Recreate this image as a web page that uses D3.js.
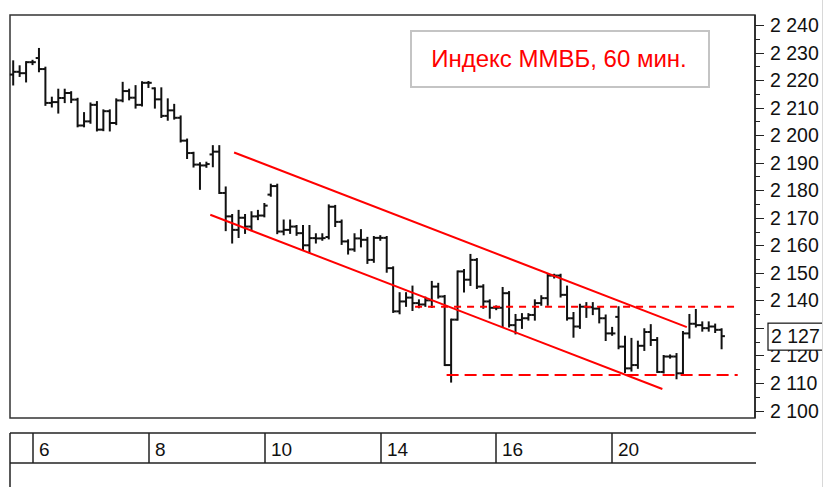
<!DOCTYPE html>
<html><head><meta charset="utf-8">
<script src="https://cdn.jsdelivr.net/npm/d3@7"></script>
<style>html,body{margin:0;padding:0;background:#fff;overflow:hidden}svg{display:block}</style>
</head><body>
<script>
// ---- data (hourly OHLC, Индекс ММВБ) ----
const open  = [2222,2223,2222.5,2226.5,2228,2224,2211.7,2212,2213.5,2215.3,2212.9,2203.5,2205,2211,2202,2208.7,2204.4,2212.6,2216,2213.6,2211,2219,
 2217,2213,2207,2209,2206.3,2198,2193.5,2189.3,2189,2193,2194,2179,2170.5,2165.6,2170,2166.8,2170.5,2170.8,
 2178.4,2181.5,2165,2165.6,2166.8,2164.4,2160,2162.6,2162.5,2163,2174,2168.5,2161.4,2158.5,2162.5,2162,2154.7,2162.7,
 2162.7,2151.7,2136,2139.6,2141,2139,2138.5,2140,2145,2141.4,2116.5,2133,2150.5,2147.5,2154.7,2145,2139.6,2137.3,
 2137.3,2142.6,2131,2132.9,2133.5,2134.7,2139,2140.8,2149,2149,2142,2133.5,2130.5,2137.7,2137.5,2137,2133.5,2128,
 2134,2123.2,2115.3,2116.5,2123.5,2128.5,2125.6,2114,2119.6,2119.6,2113.5,2128,2131.5,2131,2129.9,2130.5,2129.3];
const high  = [2226.8,2225,2226.5,2227,2231.3,2224.5,2213.6,2216.5,2216.5,2215.6,2213.2,2208,2211.5,2212,2209,2209,2213,2219,2216.5,2217.8,2219.2,2219.3,
 2217,2217,2213,2211,2206.8,2198.4,2193.6,2189.8,2190,2196,2196,2181,2171,2172.5,2171,2172,2172.5,2175,
 2182,2182,2169,2169,2167,2167,2167,2164,2164,2174.5,2174.3,2169,2161.8,2164,2165.5,2162.7,2163,2163.3,
 2163,2152,2142.6,2142.6,2145,2140,2141,2146.7,2146,2141.6,2133,2150.5,2151,2156.5,2155,2145.5,2140,2137.8,
 2144.5,2143,2134.7,2135,2135,2140,2141.5,2149.3,2149.3,2149.3,2145,2135.4,2138.4,2139,2139,2137.5,2134.5,2130,
 2137.5,2126.8,2126,2125,2129.5,2131,2126.3,2119.8,2120,2120.5,2128.5,2134.7,2136.5,2132,2132,2131.2,2129.5];
const low   = [2218.4,2221.5,2219.5,2225.8,2223.2,2211,2210.4,2208.2,2212,2212,2203.2,2203.2,2204.5,2201.7,2201.8,2201.7,2204,2212.3,2213,2210,2210.8,2217.5,
 2210,2206.6,2205.6,2206,2197.7,2191.7,2188.6,2180.5,2188.5,2188.7,2179,2165.5,2161,2163,2164.5,2165.5,2169.5,2170.5,
 2178,2164.4,2164,2164.5,2163.8,2158.5,2157.5,2161,2162,2162.5,2167,2160.5,2157,2158,2159.6,2153.6,2154,2162,
 2150.4,2135.8,2135.3,2138,2136.5,2137.5,2138,2137.6,2141,2116.5,2110.5,2133,2143.2,2145.6,2144.5,2137.3,2133.7,2136.8,
 2130.5,2130.5,2128,2130,2133,2133,2138.4,2138.4,2148.3,2141.4,2133,2126.8,2130,2134,2135,2132,2125.6,2127.5,
 2122.6,2114,2114.5,2115.5,2122,2123.8,2114,2113.8,2119.2,2111.7,2112.9,2126.5,2130.5,2129,2129,2128.5,2122.6];
const close = [2223,2222.5,2226.5,2226.5,2224,2211.7,2212,2213.5,2215.3,2212.9,2203.5,2205,2211,2202,2208.7,2204.4,2212.6,2216,2213.6,2211,2219,2219,
 2213,2207,2209,2206.3,2198,2193.5,2189.3,2189,2189.5,2194,2179,2170.5,2165.6,2170,2166.8,2170.5,2170.8,2174.4,
 2181.5,2165,2165.6,2166.8,2164.4,2160,2162.6,2162.5,2162.6,2174,2168.5,2161.4,2158.5,2162.5,2162,2154.7,2162.7,2162.7,
 2151.7,2136,2139.6,2141,2139,2138.5,2140,2145,2141.4,2116.5,2133,2150.5,2147.5,2154.7,2145,2139.6,2137.3,2137.3,
 2142.6,2131,2132.9,2133.5,2134.7,2139,2140.8,2149,2149,2142,2133.5,2130.5,2137.7,2137.5,2137,2133.5,2128,2128,
 2123.2,2115.3,2116.5,2123.5,2128.5,2125.6,2114,2119.6,2119.6,2113.5,2128,2131.5,2131,2129.9,2130.5,2129.3,2127];

const dayLabels     = ['6','8','10','14','16','20'];
const dayStartIndex = [4, 22, 40, 58, 76, 94];
const yTickValues   = [2100,2110,2120,2130,2140,2150,2160,2170,2180,2190,2200,2210,2220,2230,2240];
const yHideLabel    = [2130];
const lastPrice     = 2127;
const channelUpper  = [[34.3, 2193.7], [104.6, 2130.3]];
const channelLower  = [[30.6, 2171.1], [100.8, 2107.8]];
const levelValues   = [2137.7, 2112.9];
const levelFrom     = [62.4, 67.3];
const levelTo       = [112.5, 112.5];
const title = 'Индекс ММВБ, 60 мин.';

// ---- drawing ----
const W = 825, H = 487;
const svg = d3.select('body').append('svg').attr('width', W).attr('height', H);
const plot = {l: 10, r: 755, t: 15, b: 418};
const x = d3.scaleLinear().domain([0, close.length - 1]).range([13.2, 721.6]);
const y = d3.scaleLinear().domain([2100, 2240]).range([410.5, 25]);
const loc = d3.formatLocale({decimal: ',', thousands: '\u2009', grouping: [3], currency: ['', '']});
const fmt = v => loc.format(',')(v).replace('\u2009', ' ');
const font = '"Liberation Sans", Arial, sans-serif';
const axisFont = 19.5;

svg.append('defs').append('clipPath').attr('id', 'rclip')
  .append('rect').attr('x', 0).attr('y', 0).attr('width', 822).attr('height', H);

// frame
svg.append('rect').attr('x', plot.l).attr('y', plot.t)
  .attr('width', plot.r - plot.l).attr('height', plot.b - plot.t)
  .attr('fill', '#fff').attr('stroke', '#333').attr('stroke-width', 1.5);

// title box
svg.append('rect').attr('x', 411).attr('y', 31).attr('width', 298).attr('height', 56)
  .attr('fill', '#fff').attr('stroke', '#c4c4c4').attr('stroke-width', 2);
svg.append('text').attr('x', 559).attr('y', 67).attr('text-anchor', 'middle')
  .attr('font-family', font).attr('font-size', 24).attr('fill', '#ff0000').text(title);

// OHLC bars
const g = svg.append('g').attr('stroke', '#111').attr('stroke-width', 2).attr('fill', 'none');
const half = 3.3;
close.forEach((c, i) => {
  const xi = x(i);
  g.append('line').attr('x1', xi).attr('x2', xi).attr('y1', y(high[i]) - 1).attr('y2', y(low[i]) + 1);
  g.append('line').attr('x1', xi - half).attr('x2', xi).attr('y1', y(open[i])).attr('y2', y(open[i]));
  g.append('line').attr('x1', xi).attr('x2', xi + half).attr('y1', y(c)).attr('y2', y(c));
});

// channel lines
const red = '#ff0000';
[channelUpper, channelLower].forEach(seg => {
  svg.append('line').attr('x1', x(seg[0][0])).attr('y1', y(seg[0][1]))
    .attr('x2', x(seg[1][0])).attr('y2', y(seg[1][1]))
    .attr('stroke', red).attr('stroke-width', 2);
});
levelValues.forEach((v, k) => {
  svg.append('line').attr('x1', x(levelFrom[k])).attr('x2', x(levelTo[k]))
    .attr('y1', y(v)).attr('y2', y(v))
    .attr('stroke', red).attr('stroke-width', 2)
    .attr('stroke-dasharray', k === 0 ? '7,6' : '12,6');
});

// right axis
const ax = svg.append('g').attr('clip-path', 'url(#rclip)');
ax.append('line').attr('x1', plot.r).attr('x2', plot.r).attr('y1', plot.t).attr('y2', plot.b)
  .attr('stroke', '#222').attr('stroke-width', 1.5);
d3.range(2100, 2241, 5).forEach(v => {
  const major = v % 10 === 0;
  ax.append('line').attr('x1', plot.r).attr('x2', plot.r + (major ? 9 : 5))
    .attr('y1', Math.round(y(v)) + 0.5).attr('y2', Math.round(y(v)) + 0.5)
    .attr('stroke', '#222').attr('stroke-width', 1);
});
yTickValues.filter(v => !yHideLabel.includes(v)).forEach(v => {
  ax.append('text').attr('x', 770).attr('y', y(v)).attr('dy', '0.36em')
    .attr('font-family', font).attr('font-size', axisFont).attr('fill', '#111').text(fmt(v));
});
// last price box
ax.append('rect').attr('x', 768).attr('y', y(lastPrice) - 13).attr('width', 70).attr('height', 27)
  .attr('fill', '#fff').attr('stroke', '#111').attr('stroke-width', 1.2);
ax.append('text').attr('x', 771).attr('y', y(lastPrice)).attr('dy', '0.36em')
  .attr('font-family', font).attr('font-size', axisFont).attr('fill', '#111').text(fmt(lastPrice));

// right window edge
svg.append('line').attr('x1', 822.5).attr('x2', 822.5).attr('y1', 0).attr('y2', H)
  .attr('stroke', '#d8d8d8').attr('stroke-width', 1);

// date panel
const dp = {t: 433, b: 463};
svg.append('line').attr('x1', plot.l).attr('x2', 756).attr('y1', dp.t).attr('y2', dp.t).attr('stroke', '#222').attr('stroke-width', 1.5);
svg.append('line').attr('x1', plot.l).attr('x2', 756).attr('y1', dp.b).attr('y2', dp.b).attr('stroke', '#222').attr('stroke-width', 1.5);
svg.append('line').attr('x1', plot.l).attr('x2', plot.l).attr('y1', dp.t).attr('y2', H).attr('stroke', '#222').attr('stroke-width', 1.5);
dayStartIndex.forEach((idx, k) => {
  const dx = Math.round(x(idx) - 6.2);
  svg.append('line').attr('x1', dx).attr('x2', dx).attr('y1', dp.t).attr('y2', dp.b)
    .attr('stroke', '#222').attr('stroke-width', 1.5);
  svg.append('text').attr('x', dx + 6).attr('y', 449).attr('dy', '0.36em')
    .attr('font-family', font).attr('font-size', 19).attr('fill', '#111').text(dayLabels[k]);
});
</script>
</body></html>
